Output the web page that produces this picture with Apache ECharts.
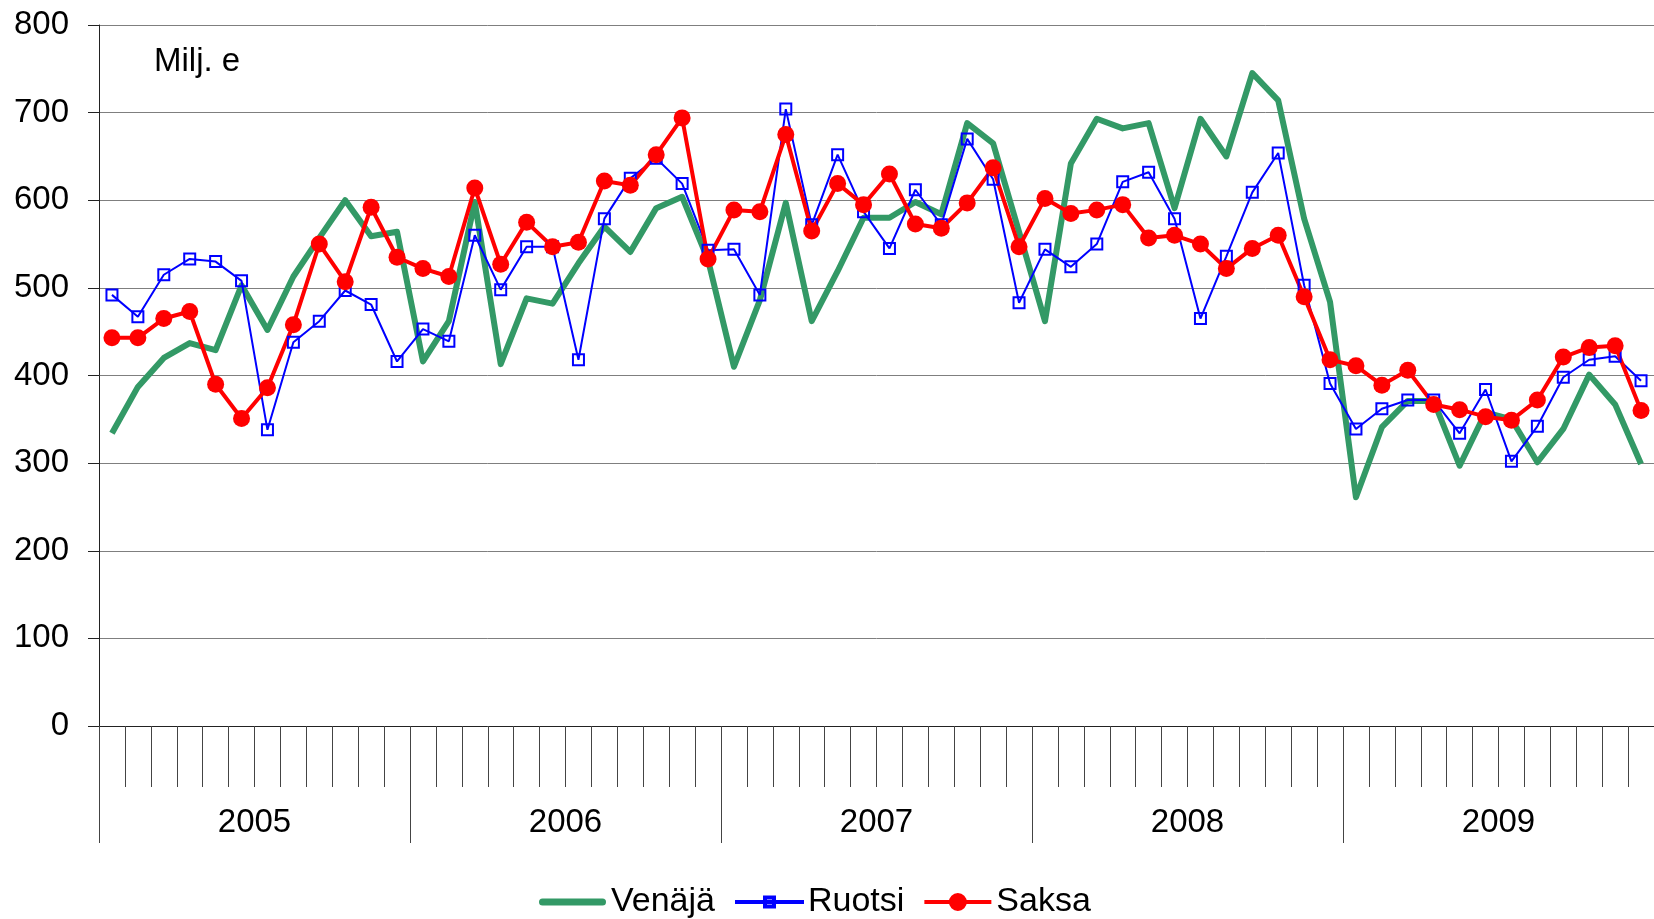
<!DOCTYPE html>
<html>
<head>
<meta charset="utf-8">
<title>Venäjä, Ruotsi, Saksa</title>
<script src="https://cdn.jsdelivr.net/npm/echarts@6/dist/echarts.min.js"></script>
<style>
  html, body { margin: 0; padding: 0; background: #fff; }
  #chart { width: 1654px; height: 919px; }
</style>
</head>
<body>
<div id="chart"></div>
<script>
// years shown under the axis, one category per month
const years = ['2005', '2006', '2007', '2008', '2009']
const months = []
years.forEach(y => {
  for (let m = 1; m <= 12; m++) months.push(y + '-' + m)
})

// Milj. e, monthly
const venaja = [
  334, 387, 420, 437, 429, 503, 452, 513, 557, 600, 559, 564,
  416, 462, 598, 413, 488, 482, 528, 570, 541, 591, 604, 532,
  410, 486, 597, 462, 519, 580, 580, 598, 584, 688, 665, 564,
  462, 642, 693, 682, 688, 591, 693, 650, 745, 714, 579, 484,
  261, 341, 371, 371, 297, 358, 350, 301, 339, 401, 367, 299
]
const ruotsi = [
  492, 467, 515, 533, 530, 508, 338, 438, 462, 497, 481, 416,
  453, 439, 560, 498, 547, 547, 418, 579, 625, 648, 619, 543,
  544, 492, 704, 572, 652, 587, 545, 612, 572, 670, 624, 483,
  544, 524, 550, 621, 632, 579, 465, 536, 609, 654, 503, 391,
  339, 362, 372, 372, 334, 384, 302, 342, 398, 418, 422, 394
]
const saksa = [
  443, 443, 465, 473, 390, 351, 386, 458, 550, 507, 592, 535,
  522, 513, 614, 527, 575, 547, 552, 622, 617, 652, 694, 533,
  589, 587, 675, 565, 619, 595, 630, 573, 568, 597, 637, 547,
  602, 585, 589, 595, 557, 560, 550, 522, 545, 560, 490, 418,
  411, 389, 406, 367, 361, 353, 349, 372, 421, 432, 434, 360
]

const font = '"Liberation Sans", Arial, sans-serif'

// legend icons: thick line / line with hollow square / line with dot
const iconVenaja = 'path://M3.5,0 L63.5,0 A3.5,3.5 0 0 1 63.5,7 L3.5,7 A3.5,3.5 0 0 1 3.5,0 Z'
const iconRuotsi = 'path://M0,4.5 L28,4.5 L28,6.5 L0,6.5 Z M39,4.5 L67,4.5 L67,6.5 L39,6.5 Z ' +
  'M28,0 L39,0 L39,11 L28,11 Z M30,2 L30,9 L37,9 L37,2 Z M30,4.5 L37,4.5 L37,6.5 L30,6.5 Z'
const iconSaksa = 'path://M0,7 L67,7 L67,11 L0,11 Z M24.5,9 A9,9 0 1 1 42.5,9 A9,9 0 1 1 24.5,9 Z'

const chart = echarts.init(document.getElementById('chart'))

chart.setOption({
  animation: false,
  backgroundColor: '#fff',
  textStyle: { fontFamily: font, color: '#000' },
  grid: {
    left: 99,
    right: -9,
    top: 25,
    bottom: 193
  },
  graphic: [{
    type: 'text',
    left: 154,
    top: 45,
    style: { text: 'Milj. e', font: '33px ' + font, fill: '#000' }
  }],
  legend: {
    left: 534,
    top: 880,
    itemWidth: 67,
    itemHeight: 20,
    itemGap: 20,
    textStyle: { fontSize: 34, fontFamily: font, color: '#000' },
    data: [
      { name: 'Venäjä', icon: iconVenaja, itemStyle: { color: '#339966' } },
      { name: 'Ruotsi', icon: iconRuotsi, itemStyle: { color: '#0000ff' } },
      { name: 'Saksa', icon: iconSaksa, itemStyle: { color: '#ff0000' } }
    ]
  },
  xAxis: [{
    type: 'category',
    data: months,
    boundaryGap: true,
    axisLine: { show: true, lineStyle: { color: '#222', width: 1 } },
    axisTick: { show: true, interval: 0, length: 61, lineStyle: { color: '#444' } },
    axisLabel: { show: false },
    splitLine: { show: false }
  }, {
    type: 'category',
    data: years,
    position: 'bottom',
    boundaryGap: true,
    axisLine: { show: false },
    axisTick: { show: true, interval: 0, length: 117, lineStyle: { color: '#444' } },
    axisLabel: { interval: 0, margin: 80, fontSize: 33, fontFamily: font, color: '#000' },
    splitLine: { show: false }
  }],
  yAxis: {
    type: 'value',
    min: 0,
    max: 800,
    interval: 100,
    axisLine: { show: true, lineStyle: { color: '#222', width: 1 } },
    axisTick: { show: true, length: 11, lineStyle: { color: '#222' } },
    axisLabel: { margin: 30, fontSize: 33, fontFamily: font, color: '#000' },
    splitLine: { lineStyle: { color: '#7f7f7f', width: 1 } }
  },
  series: [{
    name: 'Venäjä',
    type: 'line',
    data: venaja,
    symbol: 'none',
    itemStyle: { color: '#339966' },
    lineStyle: { color: '#339966', width: 6, join: 'round' }
  }, {
    name: 'Ruotsi',
    type: 'line',
    data: ruotsi,
    symbol: 'rect',
    symbolSize: 11,
    showAllSymbol: true,
    itemStyle: { color: 'rgba(255,255,255,0)', borderColor: '#0000ff', borderWidth: 2 },
    lineStyle: { color: '#0000ff', width: 2 }
  }, {
    name: 'Saksa',
    type: 'line',
    data: saksa,
    symbol: 'circle',
    symbolSize: 17,
    showAllSymbol: true,
    itemStyle: { color: '#ff0000' },
    lineStyle: { color: '#ff0000', width: 4 }
  }]
})
</script>
</body>
</html>
